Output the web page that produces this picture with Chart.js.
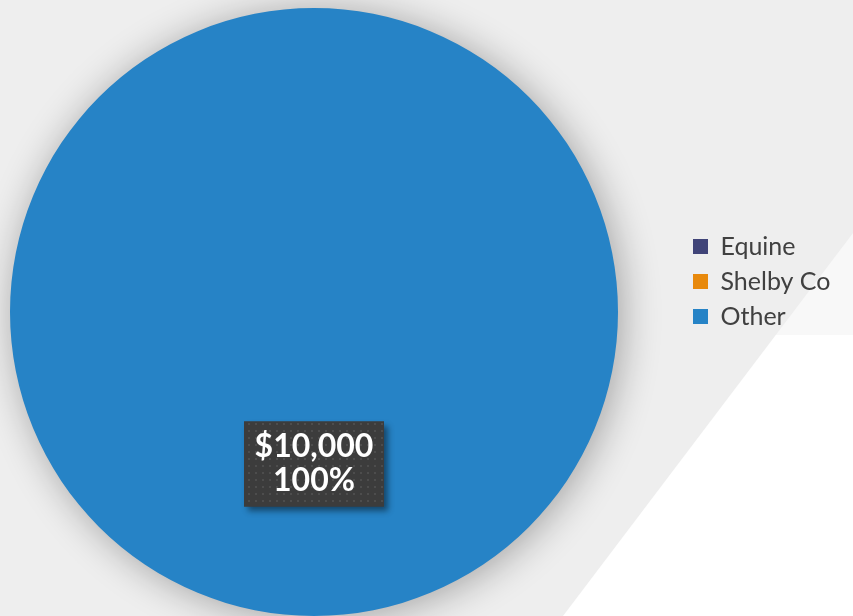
<!DOCTYPE html>
<html>
<head>
<meta charset="utf-8">
<script src="https://cdn.jsdelivr.net/npm/chart.js@4.4.1/dist/chart.umd.min.js"></script>
<style>
  html, body { margin: 0; padding: 0; background: #eeeeee; }
  #wrap { width: 853px; height: 616px; }
</style>
</head>
<body>
<div id="wrap"><canvas id="canvas1" width="853" height="616"></canvas></div>
<script>
var funds = ['Equine', 'Shelby Co', 'Other'];
var amounts = [0, 0, 10000];
var colors = ['#404478', '#e8890c', '#2683c6'];

// grey page with white wedge in the lower right
var backdrop = {
  id: 'backdrop',
  beforeDraw: function(chart) {
    var ctx = chart.ctx;
    ctx.save();
    ctx.fillStyle = '#eeeeee';
    ctx.fillRect(0, 0, chart.width, chart.height);
    ctx.fillStyle = '#ffffff';
    ctx.beginPath();
    ctx.moveTo(853, 233);
    ctx.lineTo(853, 616);
    ctx.lineTo(563, 616);
    ctx.closePath();
    ctx.fill();
    ctx.fillStyle = 'rgba(238,238,238,0.4)';
    ctx.fillRect(680, 229, 173, 106);
    ctx.restore();
  }
};

// keep the pie where it is and put the legend to the right of it
var legendSpot = {
  id: 'legendSpot',
  beforeLayout: function(chart) {
    var lg = chart.legend;
    if (lg && !lg._patched) {
      var fit = lg.fit;
      lg.fit = function() { fit.call(this); this.width = 235; };
      lg._patched = true;
    }
  },
  afterLayout: function(chart) {
    var lg = chart.legend;
    var w = lg.width;
    lg.left = 683;
    lg.right = lg.left + w;
    lg.top = 224;
  }
};

// soft shadow under the pie + the dark value box
var pieExtras = {
  id: 'pieExtras',
  beforeDatasetsDraw: function(chart) {
    var ctx = chart.ctx;
    ctx.save();
    ctx.shadowColor = 'rgba(0,0,0,0.32)';
    ctx.shadowBlur = 38;
    ctx.shadowOffsetX = 4;
    ctx.shadowOffsetY = 3;
  },
  afterDatasetsDraw: function(chart) {
    var ctx = chart.ctx;
    ctx.restore();
    var data = chart.data.datasets[0].data;
    var total = data.reduce(function(a, b) { return a + b; }, 0);
    var meta = chart.getDatasetMeta(0);

    var pat = document.createElement('canvas');
    pat.width = 7; pat.height = 7;
    var pctx = pat.getContext('2d');
    pctx.fillStyle = '#3c3c3c';
    pctx.fillRect(0, 0, 7, 7);
    pctx.fillStyle = '#4d4d4d';
    pctx.fillRect(3, 3, 2, 2);

    meta.data.forEach(function(arc, i) {
      if (!data[i]) return;
      var p = arc.tooltipPosition();
      var w = 140, h = 85;
      ctx.save();
      ctx.shadowColor = 'rgba(0,0,0,0.45)';
      ctx.shadowBlur = 6;
      ctx.shadowOffsetX = 4;
      ctx.shadowOffsetY = 4;
      ctx.fillStyle = '#3c3c3c';
      ctx.fillRect(p.x - w / 2, p.y - h / 2, w, h);
      ctx.restore();
      ctx.save();
      ctx.fillStyle = ctx.createPattern(pat, 'repeat');
      ctx.fillRect(p.x - w / 2, p.y - h / 2, w, h);
      ctx.fillStyle = '#ffffff';
      ctx.font = 'bold 32px Lato';
      ctx.textAlign = 'center';
      ctx.textBaseline = 'middle';
      ctx.fillText('$' + data[i].toLocaleString('en-US'), p.x, p.y - 17);
      ctx.fillText(Math.round(data[i] / total * 100) + '%', p.x, p.y + 17);
      ctx.restore();
    });
  }
};

window.onload = function() {
  var ctx1 = document.getElementById('canvas1').getContext('2d');
  window.myPie = new Chart(ctx1, {
    type: 'pie',
    data: {
      labels: funds,
      datasets: [{
        data: amounts,
        backgroundColor: colors,
        borderWidth: 0
      }]
    },
    options: {
      responsive: false,
      animation: false,
      layout: { padding: { left: 10, top: 8, right: 0, bottom: 0 } },
      plugins: {
        tooltip: { enabled: false },
        legend: {
          position: 'right',
          align: 'start',
          labels: {
            boxWidth: 15,
            boxHeight: 15,
            padding: 10,
            color: '#404040',
            font: { family: 'Lato', size: 25 }
          }
        }
      }
    },
    plugins: [backdrop, legendSpot, pieExtras]
  });
};
</script>
</body>
</html>
